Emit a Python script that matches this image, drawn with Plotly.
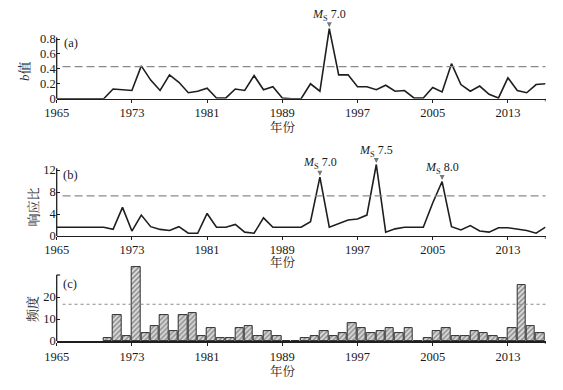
import plotly.graph_objects as go

# ---------------- data ----------------
years = list(range(1965, 2018))

b_value = [0, 0, 0, 0, 0, 0, 0.13, 0.12, 0.11, 0.44, 0.25, 0.11, 0.32, 0.22, 0.08, 0.10,
           0.14, 0.01, 0.01, 0.13, 0.11, 0.31, 0.12, 0.16, 0.01, 0, 0, 0.20, 0.10, 0.94,
           0.32, 0.32, 0.16, 0.16, 0.12, 0.18, 0.10, 0.11, 0.01, 0.01, 0.15, 0.09, 0.47,
           0.19, 0.10, 0.17, 0.06, 0.01, 0.28, 0.11, 0.08, 0.19, 0.20]

response_ratio = [1.6, 1.6, 1.6, 1.6, 1.6, 1.6, 1.2, 5.2, 0.9, 3.8, 1.7, 1.2, 1.0, 1.7, 0.5,
                  0.5, 4.1, 1.6, 1.6, 2.1, 0.7, 0.5, 3.3, 1.6, 1.6, 1.6, 1.6, 2.6, 10.7, 1.6,
                  2.2, 2.9, 3.1, 3.8, 13.0, 0.7, 1.3, 1.6, 1.6, 1.6, 6.0, 9.9, 1.7, 1.1, 1.9,
                  0.9, 0.7, 1.5, 1.5, 1.2, 1.0, 0.5, 1.6]

freq_years = list(range(1970, 2017))
frequency = [1.2, 11.6, 2.3, 33.6, 3.5, 6.9, 11.6, 4.6, 11.6, 12.7, 2.3, 5.8, 1.2, 1.2, 5.8,
             6.9, 2.3, 4.6, 2.3, 0, 0, 1.2, 2.3, 4.6, 2.3, 3.5, 8.1, 5.8, 3.5, 4.6, 5.8,
             3.5, 5.8, 0, 1.2, 4.6, 5.8, 2.3, 2.3, 4.6, 3.5, 2.3, 1.2, 5.8, 25.6, 6.9, 3.5]

b_threshold = 0.43
rr_threshold = 7.3
freq_threshold = 16.7

x_tickvals = [1965, 1973, 1981, 1989, 1997, 2005, 2013]
x_end = 2017

events_a = [(1994, 0.94, "<i>M</i><sub>S</sub> 7.0")]
events_b = [(1993, 10.7, "<i>M</i><sub>S</sub> 7.0"), (1999, 13.0, "<i>M</i><sub>S</sub> 7.5"),
            (2006, 9.9, "<i>M</i><sub>S</sub> 8.0")]

# ---------------- figure ----------------
# the page body has an 8px margin, so the figure is drawn 8px in from the window corner
OFF = 8
W, H = 563 - OFF, 390 - OFF
FONT = "Liberation Serif, Noto Serif CJK SC, Noto Sans CJK SC, serif"
TXT = "#1a1a1a"
AX = "#1e1e1e"


def px(x):
    return (x - OFF) / W


def py(y):
    return 1 - (y - OFF) / H


fig = go.Figure()

fig.add_trace(go.Scatter(x=years, y=b_value, mode="lines", line=dict(color=AX, width=1.6),
                         xaxis="x", yaxis="y", showlegend=False))
fig.add_trace(go.Scatter(x=years, y=response_ratio, mode="lines", line=dict(color=AX, width=1.6),
                         xaxis="x2", yaxis="y2", showlegend=False))
fig.add_trace(go.Bar(x=[y + 0.45 for y in freq_years], y=frequency, width=0.9,
                     marker=dict(color="#dcdcdc", line=dict(color="#2e2e2e", width=1),
                                 pattern=dict(shape="/", fgcolor="#303030", bgcolor="#dcdcdc",
                                              size=3.5, solidity=0.42)),
                     xaxis="x3", yaxis="y3", showlegend=False))

xdom = [px(56.7), px(545.5)]
xcommon = dict(range=[1965, x_end], showline=True, linecolor=AX, linewidth=1.3,
               ticks="outside", ticklen=3, tickcolor=AX, tickvals=x_tickvals,
               showgrid=False, zeroline=False, domain=xdom,
               automargin=False, tickfont=dict(family=FONT, size=12.5, color=TXT))
ycommon = dict(showline=False, ticks="inside", ticklen=3, tickcolor=AX, automargin=False,
               showgrid=False, zeroline=False, tickfont=dict(family=FONT, size=12.5, color=TXT))

fig.update_layout(
    width=W, height=H, margin=dict(l=0, r=0, t=0, b=0, pad=0), autosize=False,
    paper_bgcolor="white", plot_bgcolor="white", bargap=0,
    xaxis=dict(anchor="y", ticklabelstandoff=-1, **xcommon),
    xaxis2=dict(anchor="y2", ticklabelstandoff=-1, **xcommon),
    xaxis3=dict(anchor="y3", **{**xcommon, "linewidth": 1.8}),
    yaxis=dict(anchor="x", domain=[py(98.7), py(26.4)], range=[0, 0.97],
               tickvals=[0, 0.2, 0.4, 0.6, 0.8], ticktext=["0", "0.2", "0.4", "0.6", "0.8"], **ycommon),
    yaxis2=dict(anchor="x2", domain=[py(236), py(161.75)], range=[0, 13.5],
                tickvals=[0, 4, 8, 12], **ycommon),
    yaxis3=dict(anchor="x3", domain=[py(341), py(265.1)], range=[0, 34.5],
                tickvals=[0, 10, 20], **ycommon),
)

# y axis lines (shorter than plot area, as in the reference) + top tick
for yref, top in (("y", 0.82), ("y2", 12.3), ("y3", 30)):
    xr = {"y": "x domain", "y2": "x2 domain", "y3": "x3 domain"}[yref]
    fig.add_shape(type="line", xref=xr, yref=yref, x0=0, x1=0, y0=0, y1=top,
                  line=dict(color=AX, width=1.3))
fig.add_shape(type="line", xref="x3 domain", yref="y3", x0=0, x1=0.007, y0=30, y1=30,
              line=dict(color=AX, width=1.2))

# end ticks of x axes
for xr, yr in (("x", "y domain"), ("x2", "y2 domain"), ("x3", "y3 domain")):
    fig.add_shape(type="line", xref=xr, yref=yr, x0=x_end, x1=x_end, y0=0, y1=-0.04,
                  line=dict(color=AX, width=1.2))

# threshold lines
fig.add_shape(type="line", xref="x domain", yref="y", x0=0.012, x1=1, y0=b_threshold, y1=b_threshold,
              line=dict(color="#8a8a8a", width=1.3, dash="8px,4px"))
fig.add_shape(type="line", xref="x2 domain", yref="y2", x0=0.012, x1=1, y0=rr_threshold, y1=rr_threshold,
              line=dict(color="#8a8a8a", width=1.3, dash="8px,4px"))
fig.add_shape(type="line", xref="x3 domain", yref="y3", x0=0.012, x1=1, y0=freq_threshold, y1=freq_threshold,
              line=dict(color="#8a8a8a", width=1.1, dash="3px,3px"))

# event annotations
for (yr, val, label) in events_a:
    fig.add_annotation(x=yr, y=val, xref="x", yref="y", text=label, showarrow=True,
                       ax=0, ay=-14, arrowhead=2, arrowsize=1, arrowwidth=1, arrowcolor="#777777",
                       standoff=1.5, font=dict(family=FONT, size=12, color=TXT))
for (yr, val, label) in events_b:
    fig.add_annotation(x=yr, y=val, xref="x2", yref="y2", text=label, showarrow=True,
                       ax=0, ay=-14, arrowhead=2, arrowsize=1, arrowwidth=1, arrowcolor="#777777",
                       standoff=1.5, font=dict(family=FONT, size=12, color=TXT))

# panel labels
for (lab, x, y) in (("(a)", 71, 43), ("(b)", 70, 175), ("(c)", 70, 284)):
    fig.add_annotation(x=px(x), y=py(y), xref="paper", yref="paper", text=lab, showarrow=False,
                       xanchor="center", yanchor="middle",
                       font=dict(family=FONT, size=12.5, color=TXT))

# y titles
for (lab, x, y) in (("<i>b</i>值", 25, 71), ("响应比", 32.5, 207), ("频度", 32, 309)):
    fig.add_annotation(x=px(x), y=py(y), xref="paper", yref="paper", text=lab, showarrow=False,
                       xanchor="center", yanchor="middle", textangle=-90,
                       font=dict(family=FONT, size=13, color=TXT))

# x titles
for y in (127, 263, 371):
    fig.add_annotation(x=px(283), y=py(y), xref="paper", yref="paper", text="年份", showarrow=False,
                       xanchor="center", yanchor="middle",
                       font=dict(family=FONT, size=12.5, color=TXT))

fig.write_html("out.html")
